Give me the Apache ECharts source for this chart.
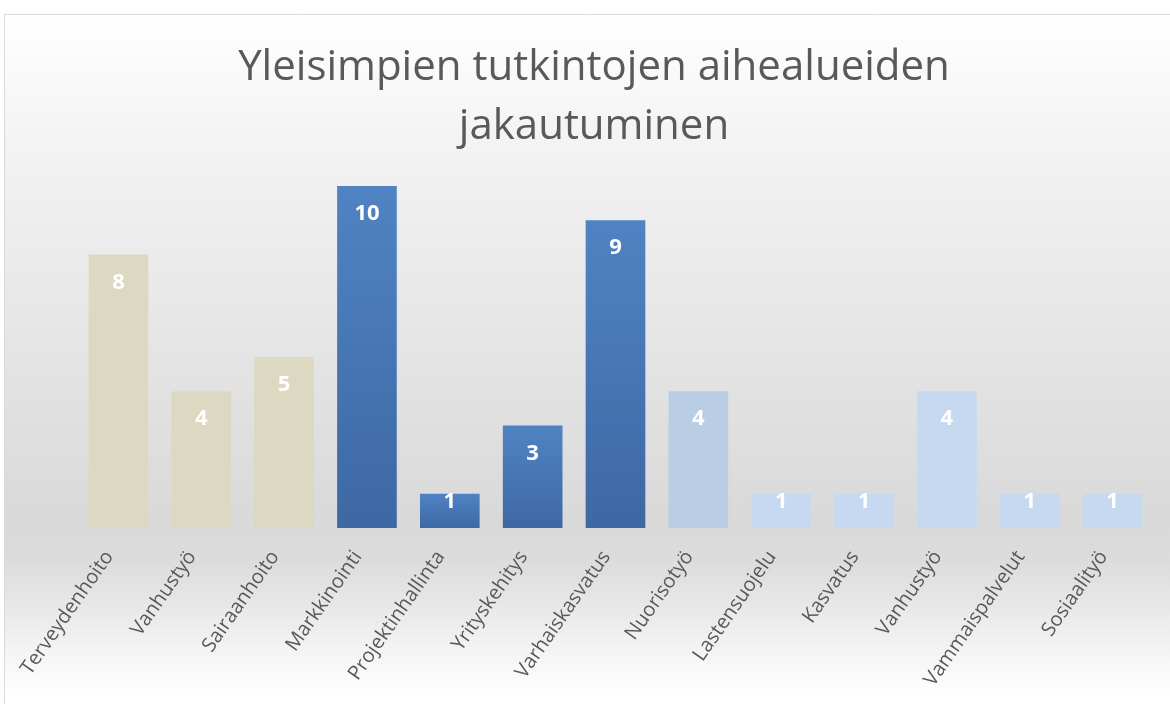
<html>
    <head>
        <meta charset="utf-8">
        <script src="https://cdn.jsdelivr.net/npm/echarts@6/dist/echarts.min.js"></script>
        <style>
            html, body { margin: 0; padding: 0; background: #fff; }
            #main { width: 1170px; height: 704px; }
        </style>
    </head>
    <body>
        <div id="main"></div>
        <script>

        var titleText = 'Yleisimpien tutkintojen aihealueiden\njakautuminen';

        var categories = ['Terveydenhoito', 'Vanhustyö', 'Sairaanhoito', 'Markkinointi',
            'Projektinhallinta', 'Yrityskehitys', 'Varhaiskasvatus', 'Nuorisotyö',
            'Lastensuojelu', 'Kasvatus', 'Vanhustyö', 'Vammaispalvelut', 'Sosiaalityö'];

        var values = [8, 4, 5, 10, 1, 3, 9, 4, 1, 1, 4, 1, 1];

        // which colour group each bar belongs to
        var groups = [0, 0, 0, 1, 1, 1, 1, 2, 3, 3, 3, 3, 3];

        var groupColors = [
            '#ddd8c2',
            new echarts.graphic.LinearGradient(0, 0, 0, 1, [
                { offset: 0, color: '#5083c3' },
                { offset: 1, color: '#3d68a4' }
            ]),
            '#b9cde5',
            '#c6d9f0'
        ];

        var myChart = echarts.init(document.getElementById('main'));

        var option = {
            animation: false,
            graphic: [
                {
                    type: 'rect',
                    z: -10,
                    shape: { x: 4.5, y: 14.5, width: 1180, height: 700 },
                    style: {
                        fill: new echarts.graphic.LinearGradient(0, 0, 0, 1, [
                            { offset: 0, color: '#ffffff' },
                            { offset: 0.2, color: '#f2f2f2' },
                            { offset: 0.72, color: '#d9d9d9' },
                            { offset: 0.78, color: '#dcdcdc' },
                            { offset: 0.97, color: '#ffffff' },
                            { offset: 1, color: '#ffffff' }
                        ]),
                        stroke: '#d9d9d9',
                        lineWidth: 1
                    }
                }
            ],
            title: {
                text: titleText,
                left: 589,
                top: 34,
                padding: 5,
                textAlign: 'center',
                textStyle: {
                    fontFamily: 'Open Sans',
                    fontWeight: 'normal',
                    fontSize: 42,
                    lineHeight: 59,
                    color: '#595959'
                }
            },
            grid: {
                left: 77,
                right: 16,
                top: 186,
                bottom: 176,
                containLabel: false
            },
            xAxis: {
                type: 'category',
                data: categories,
                axisLine: { show: false },
                axisTick: { show: false },
                axisLabel: {
                    rotate: 55,
                    interval: 0,
                    margin: 12,
                    padding: [0, 16, 4, 0],
                    fontFamily: 'Open Sans',
                    fontSize: 20,
                    color: '#595959'
                }
            },
            yAxis: {
                type: 'value',
                min: 0,
                max: 10,
                show: false
            },
            series: [
                {
                    type: 'bar',
                    data: values.map(function (v, i) {
                        return {
                            value: v,
                            itemStyle: { color: groupColors[groups[i]] },
                            label: { distance: v <= 1 ? -3 : 17 }
                        };
                    }),
                    barCategoryGap: '28%',
                    label: {
                        show: true,
                        position: 'insideTop',
                        color: '#ffffff',
                        fontFamily: 'Open Sans',
                        fontWeight: 'bold',
                        fontSize: 22
                    }
                }
            ]
        };

        myChart.setOption(option);

        </script>
    </body>
</html>
